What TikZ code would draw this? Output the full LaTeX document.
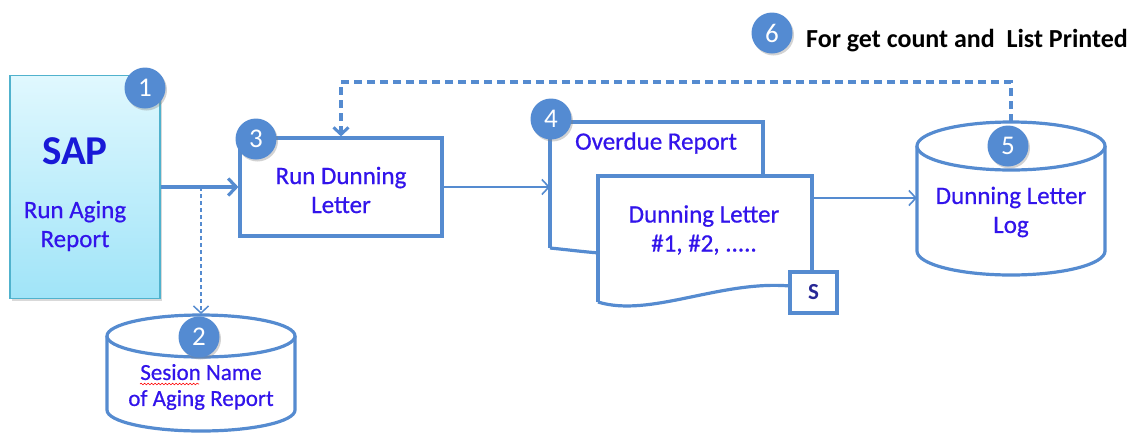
\documentclass[tikz,border=0pt]{standalone}
\usepackage{fontspec}
\setmainfont{Carlito}
\newfontface\lblface[FakeBold=0.6]{Carlito}
\usetikzlibrary{arrows.meta,shadows,decorations.pathmorphing}
\definecolor{lineblue}{RGB}{85,139,208}
\definecolor{numblue}{RGB}{84,139,210}
\definecolor{txtblue}{RGB}{50,20,235}
\definecolor{sapblue}{RGB}{25,25,215}
\definecolor{sblue}{RGB}{40,40,150}
\definecolor{tealb}{RGB}{80,178,205}
\definecolor{saptop}{RGB}{224,248,254}
\definecolor{sapbot}{RGB}{160,228,248}
\begin{document}
\begin{tikzpicture}[x=1pt,y=-1pt,
  shapeline/.style={draw=lineblue,line width=3.2pt,fill=white},
  lbl/.style={text=txtblue,font=\lblface\fontsize{25}{29}\selectfont,align=center},
  num/.style={circle,fill=numblue,text=white,minimum size=41pt,inner sep=0pt,
    font=\fontsize{27}{27}\selectfont,
    drop shadow={opacity=0.35,shadow xshift=1.5pt,shadow yshift=-2pt}},
  conn/.style={draw=lineblue,line width=1.6pt,
    -{Straight Barb[length=7pt,width=15pt,line width=1.6pt]}},
  mainconn/.style={draw=lineblue,line width=3.4pt,
    -{Straight Barb[length=8pt,width=17pt,line width=3.2pt]}},
  thindash/.style={draw=lineblue,line width=1.5pt,dash pattern=on 4pt off 3pt,
    -{Straight Barb[length=7pt,width=15pt,line width=1.5pt,sep=0pt]}},
  fbdash/.style={draw=lineblue,line width=3.2pt,dash pattern=on 8pt off 5pt,
    -{Straight Barb[length=7pt,width=15pt,line width=3pt]}},
  sapbox/.style={rectangle,minimum width=150pt,minimum height=223pt,
    top color=saptop,bottom color=sapbot,draw=tealb,line width=1.8pt,
    drop shadow={opacity=0.3,shadow xshift=2pt,shadow yshift=-2pt}},
]
\useasboundingbox (0,0) rectangle (1134,432);

% ---- SAP box ----
\node[sapbox] (sap) at (85,187) {};
\node[text=sapblue,font=\bfseries\fontsize{41}{41}\selectfont] (sapt) at (75,151) {SAP};
\node[lbl] (sapl) at (75,226) {Run Aging\\Report};
\node[num] (n1) at (145,88) {1};

% ---- Run Dunning Letter box ----
\node[shapeline,rectangle,minimum width=202pt,minimum height=98pt] (run) at (341,187) {};
\node[lbl] (runt) at (341,190) {Run Dunning\\Letter};
\node[num] (n3) at (256,139) {3};

% ---- cylinder 2 ----
\path[shapeline] (107,336) -- (107,410) arc[start angle=180,end angle=0,x radius=94,y radius=21] -- (295,336);
\draw[shapeline] (201,336) ellipse[x radius=94,y radius=21];
\coordinate (c2top) at (201,314);
\node[lbl,font=\lblface\fontsize{23}{26}\selectfont] (c2t) at (201,387) {Sesion Name\\of Aging Report};
\draw[red,line width=0.6pt,decorate,decoration={snake,amplitude=0.8pt,segment length=3.5pt}] (140,384) -- (199,384);
\node[num] (n2) at (199,337) {2};

% ---- documents 4 ----
\draw[shapeline] (550,248) -- (550,122) -- (763,122) -- (763,177);
\draw[shapeline,fill=none] (550,248) .. controls (570,250) and (585,252) .. (600,253);
\coordinate (d4in) at (550,187);
\node[lbl] (d4t) at (656,143) {Overdue Report};
\path[shapeline,draw=none] (598,302) -- (598,176) -- (812,176) -- (812,272) -- (790,286)
  .. controls (720,280) and (650,318) .. (598,302);
\draw[draw=lineblue,line width=3.2pt] (598,302) -- (598,176) -- (812,176) -- (812,272);
\draw[draw=lineblue,line width=3.2pt] (598,302) .. controls (650,318) and (720,280) .. (790,286);
\node[lbl] (d2t) at (704,230) {Dunning Letter\\\#1, \#2, .....};
\coordinate (d2out) at (812,198);
\node[shapeline,rectangle,minimum width=47pt,minimum height=41pt,text=sblue,
  font=\bfseries\fontsize{23}{23}\selectfont] (sbox) at (813.5,292.5) {S};
\node[num] (n4) at (551,119) {4};

% ---- cylinder 5 ----
\path[shapeline] (917,146) -- (917,251) arc[start angle=180,end angle=0,x radius=94,y radius=24] -- (1105,146);
\draw[shapeline] (1011,146) ellipse[x radius=94,y radius=24];
\coordinate (c5top) at (1011,122);
\coordinate (c5w) at (917,198);
\node[lbl] (c5t) at (1011,212) {Dunning Letter\\Log};
\node[num] (n5) at (1008,146) {5};

% ---- note 6 ----
\node[num] (n6) at (772,33) {6};
\node[anchor=west,font=\bfseries\fontsize{26}{26}\selectfont,inner sep=0pt] (n6t) at (806,41) {For get count and\ \ List Printed};

% ---- connectors ----
\draw[mainconn] (sap.east) -- (run.west);
\coordinate (br) at (201,187);
\draw[thindash] (br) -- (c2top);
\draw[conn] (run.east) -- (d4in);
\draw[conn] (d2out) -- (c5w);
\draw[fbdash] (c5top) -- ++(0,-40) -| (run.north);
\end{tikzpicture}
\end{document}
